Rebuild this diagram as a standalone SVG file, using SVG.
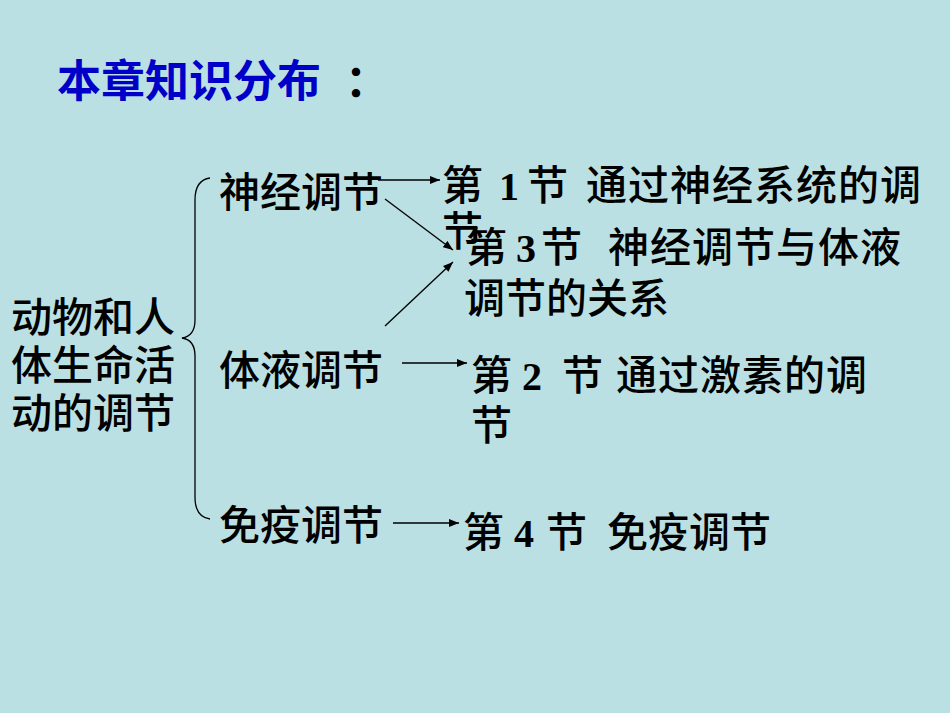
<svg xmlns="http://www.w3.org/2000/svg" width="950" height="713" viewBox="0 0 950 713">
<defs>
<style>
.t{font-family:"Noto Sans CJK SC","Noto Sans",sans-serif;font-size:41px;fill:#000;font-weight:500}
.w{letter-spacing:1px}
.n{font-family:"Liberation Serif",serif;font-weight:bold;font-size:40px}
.title{font-family:"Noto Sans CJK SC",sans-serif;font-size:44px;font-weight:bold;fill:#0000C8}
.c{stroke:#000;stroke-width:1.3;fill:none}
</style>
<marker id="ah" viewBox="0 0 10 8" refX="10" refY="4" markerWidth="10" markerHeight="8" markerUnits="userSpaceOnUse" orient="auto">
<path d="M0,0 L10,4 L0,8 z" fill="#000"/>
</marker>
</defs>
<rect width="950" height="713" fill="#BBE0E3"/>
<g id="title">
<text class="title" x="57" y="97">本章知识分布<tspan x="345" fill="#000">：</tspan></text>
</g>
<g id="root">
<text class="t" x="11" y="332">动物和人</text>
<text class="t" x="11" y="380">体生命活</text>
<text class="t" x="11" y="428">动的调节</text>
</g>
<g id="brace">
<path class="c" d="M210,178 Q195,180 195,200 L195,320 Q195,336 182,338 Q195,340 195,356 L195,497 Q195,517 210,519"/>
</g>
<g id="n-shenjing"><text class="t" x="219" y="207">神经调节</text></g>
<g id="n-tiye"><text class="t" x="219" y="385">体液调节</text></g>
<g id="n-mianyi"><text class="t" x="219" y="540">免疫调节</text></g>
<g id="s1">
<text class="t" x="442" y="200">第 <tspan class="n" x="499">1 </tspan><tspan x="527">节  </tspan><tspan class="w" x="586">通过神经系统的调</tspan></text>
<text class="t" x="442" y="246">节</text>
</g>
<g id="s3">
<text class="t" x="466" y="262">第 <tspan class="n" x="516">3 </tspan><tspan x="541">节  </tspan><tspan class="w" x="608">神经调节与体液</tspan></text>
<text class="t" x="464" y="313">调节的关系</text>
</g>
<g id="s2">
<text class="t" x="471" y="390">第 <tspan class="n" x="522">2 </tspan><tspan x="562">节  </tspan><tspan class="w" x="616">通过激素的调</tspan></text>
<text class="t" x="471" y="440">节</text>
</g>
<g id="s4">
<text class="t" x="463" y="547">第 <tspan class="n" x="514">4 </tspan><tspan x="546">节  </tspan><tspan x="607">免疫调节</tspan></text>
</g>
<g id="connectors">
<line class="c" x1="378" y1="180" x2="440" y2="180" marker-end="url(#ah)"/>
<line class="c" x1="385" y1="199" x2="453" y2="250" marker-end="url(#ah)"/>
<line class="c" x1="385" y1="326" x2="453" y2="262" marker-end="url(#ah)"/>
<line class="c" x1="402" y1="363" x2="467" y2="363" marker-end="url(#ah)"/>
<line class="c" x1="393" y1="523" x2="459" y2="523" marker-end="url(#ah)"/>
</g>
</svg>
